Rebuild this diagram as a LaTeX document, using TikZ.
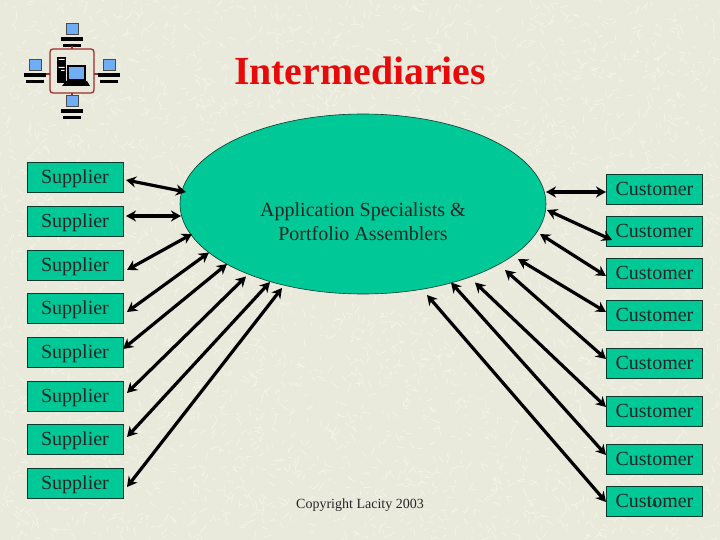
\documentclass[tikz,border=0pt]{standalone}
\usepackage{fontspec}
\setmainfont{Liberation Serif}
\usetikzlibrary{arrows.meta,positioning,shapes.geometric}
\definecolor{paper}{HTML}{E9E9DC}
\definecolor{fleck}{HTML}{F6F6EC}
\definecolor{teal}{HTML}{00C896}
\definecolor{edge}{HTML}{0A3A2C}
\definecolor{frame}{HTML}{A02C2C}
\definecolor{screen}{HTML}{6FAEF5}

\begin{document}
\begin{tikzpicture}[
  x=1pt, y=-1pt,
  partner/.style={draw=edge, fill=teal, line width=0.8pt, outer sep=0pt, minimum width=96pt, minimum height=30pt, inner sep=0pt, text height=13.5pt, text depth=1pt, font=\fontsize{20}{24}\selectfont, text=black!85},
  link/.style={line width=3.2pt, {Stealth[length=10pt,width=11pt]}-{Stealth[length=10pt,width=11pt]}},
  node distance=13.7pt,
  term/.pic={
    \fill[screen, draw=black!70, line width=1pt] (-6,-6) rectangle (6,5);
    \fill[black] (-11,7) rectangle (11,11);
    \fill[black] (-9,14) rectangle (9,17);
  }
]
\useasboundingbox (0,0) rectangle (720,540);
\fill[paper] (0,0) rectangle (720,540);
% background flecks
\pgfmathsetseed{14}
\foreach \i in {1,...,4200}{
  \pgfmathsetmacro{\fx}{rnd*720}
  \pgfmathsetmacro{\fy}{rnd*540}
  \pgfmathsetmacro{\fa}{rnd*360}
  \pgfmathsetmacro{\fl}{3+rnd*6}
  \draw[fleck, line width=0.5pt] (\fx,\fy) -- ++(\fa:\fl);
}

% corner icon
\pic at (72,30) {term};
\pic at (35,66) {term};
\pic at (109,66) {term};
\pic at (72,102) {term};
\draw[frame, line width=1.2pt] (72,46) -- (72,49) (72,93) -- (72,96) (46,74) -- (50,74) (94,74) -- (98,74);
\draw[frame, line width=1.3pt, rounded corners=3pt] (50,49) rectangle (94,93);
\fill[black] (57,57) rectangle (66,83);
\fill[white] (58.5,59) rectangle (64.5,60) (58.5,67) rectangle (64.5,68) (61,70) rectangle (64.5,71);
\fill[screen, draw=black, line width=1.2pt] (68,66) rectangle (85,80);
\fill[black] (66,81) -- (87,81) -- (90,86) -- (62,86) -- cycle;

\node[font=\bfseries\fontsize{39.8}{44}\selectfont, text={rgb,255:red,230;green,10;blue,10}] (title) at (360,71) {Intermediaries};
\node[ellipse, draw=edge, fill=teal, line width=0.6pt, outer sep=0pt, minimum width=366pt, minimum height=180pt] (hub) at (363,204) {};
\node[font=\fontsize{20}{24}\selectfont, align=center, text=black!85] (hubtext) at (363,222) {Application Specialists \&\\Portfolio Assemblers};
\node[font=\fontsize{14}{16}\selectfont, text=black!85] (copy) at (360,505) {Copyright Lacity 2003};

\node[partner] (s1) at (75,177.5) {Supplier};
\foreach \i [remember=\i as \j (initially 1)] in {2,...,8}
  \node[partner, below=of s\j] (s\i) {Supplier};

\node[partner] (c1) at (654.5,189) {Customer};
\node[partner, below=12pt of c1] (c2) {Customer};
\node[partner, below=12pt of c2] (c3) {Customer};
\node[partner, below=12pt of c3] (c4) {Customer};
\node[partner, below=18pt of c4] (c5) {Customer};
\node[partner, below=18pt of c5] (c6) {Customer};
\node[partner, below=18pt of c6] (c7) {Customer};
\node[partner, below=12.5pt of c7] (c8) {Customer};
\node[font=\fontsize{10}{11}\selectfont, text=black!85] (pageno) at (652,504) {14};

% free ends at the ellipse
\coordinate (h1) at (186,192);
\coordinate (h2) at (181,216);
\coordinate (h3) at (192,234);
\coordinate (h4) at (209,252.5);
\coordinate (h5) at (227,264);
\coordinate (h6) at (246,276.5);
\coordinate (h7) at (270,282);
\coordinate (h8) at (282,288);
\coordinate (k1) at (546,192);
\coordinate (k2) at (547,210);
\coordinate (k3) at (540,234);
\coordinate (k4) at (518,259);
\coordinate (k5) at (505,270);
\coordinate (k6) at (475,282.5);
\coordinate (k7) at (451,282.5);
\coordinate (k8) at (427,295);

% free ends next to the boxes
\coordinate (a1) at (126,180);
\coordinate (a2) at (126,216);
\coordinate (a3) at (127,270);
\coordinate (a4) at (127,312);
\coordinate (a5) at (123,349);
\coordinate (a6) at (127,393);
\coordinate (a7) at (127,437);
\coordinate (a8) at (127,487);
\coordinate (b1) at (606,192);
\coordinate (b2) at (612,240);
\coordinate (b3) at (606,276);
\coordinate (b4) at (606,312);
\coordinate (b5) at (606,359);
\coordinate (b6) at (606,407);
\coordinate (b7) at (606,455);
\coordinate (b8) at (606,502);
\foreach \i in {1,...,8}{
  \draw[link] (a\i) -- (h\i);
  \draw[link] (b\i) -- (k\i);
}
\end{tikzpicture}
\end{document}
